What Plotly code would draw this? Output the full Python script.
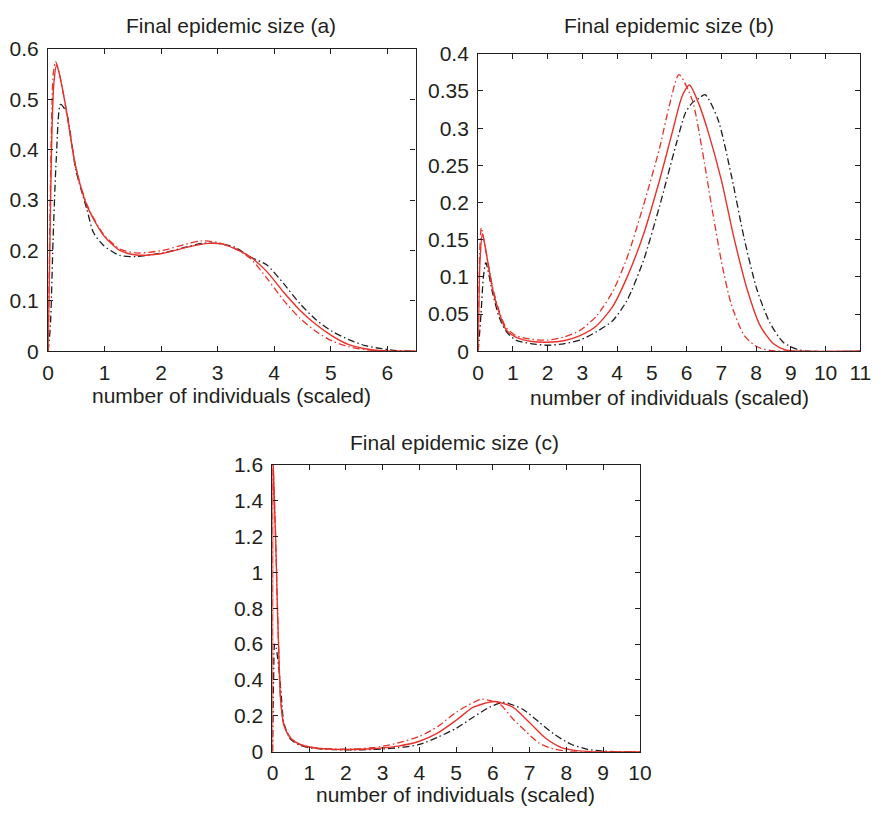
import plotly.graph_objects as go

# ---------------- Panel (a) ----------------
xa_solid = [0, 0.03, 0.06, 0.1, 0.15, 0.2, 0.32, 0.49, 0.69, 0.98, 1.27, 1.56, 2.02, 2.49, 2.83, 3.06,
            3.29, 3.58, 3.87, 4.16, 4.45, 4.74, 5.03, 5.32, 5.61, 5.9, 6.2, 6.5]
ya_solid = [0, 0.2, 0.4, 0.53, 0.568, 0.55, 0.48, 0.365, 0.288, 0.23, 0.2, 0.191, 0.194, 0.207, 0.214, 0.213,
            0.204, 0.187, 0.158, 0.118, 0.082, 0.053, 0.03, 0.013, 0.005, 0.001, 0, 0]
xa_rdash = [0, 0.03, 0.06, 0.09, 0.13, 0.18, 0.32, 0.49, 0.69, 0.98, 1.27, 1.56, 2.02, 2.49, 2.71, 3.0,
            3.29, 3.58, 3.87, 4.16, 4.45, 4.74, 5.03, 5.32, 5.61, 5.9, 6.2, 6.5]
ya_rdash = [0, 0.25, 0.45, 0.55, 0.575, 0.56, 0.48, 0.365, 0.29, 0.232, 0.203, 0.195, 0.2, 0.214, 0.219, 0.216,
            0.205, 0.184, 0.145, 0.102, 0.066, 0.039, 0.02, 0.009, 0.003, 0.001, 0, 0]
xa_black = [0, 0.04, 0.087, 0.145, 0.22, 0.32, 0.49, 0.69, 0.8, 0.98, 1.27, 1.56, 2.02, 2.49, 2.71, 3.0,
            3.29, 3.58, 3.87, 4.16, 4.45, 4.74, 5.03, 5.32, 5.61, 5.9, 6.18, 6.5]
ya_black = [0, 0.05, 0.22, 0.384, 0.49, 0.475, 0.36, 0.28, 0.236, 0.21, 0.19, 0.188, 0.195, 0.208, 0.214, 0.214,
            0.207, 0.187, 0.171, 0.135, 0.095, 0.0625, 0.039, 0.023, 0.011, 0.005, 0.001, 0]

# ---------------- Panel (b) ----------------
xb_solid = [0, 0.05, 0.12, 0.24, 0.42, 0.61, 0.8, 1.08, 1.55, 2.0, 2.46, 2.93, 3.4, 3.87, 4.28, 4.75,
            5.22, 5.59, 5.87, 6.08, 6.34, 6.62, 7.0, 7.37, 7.75, 8.12, 8.5, 8.87, 9.3, 11]
yb_solid = [0, 0.12, 0.158, 0.13, 0.082, 0.051, 0.029, 0.019, 0.013, 0.012, 0.014, 0.021, 0.034, 0.06, 0.099, 0.156,
            0.23, 0.295, 0.343, 0.358, 0.334, 0.295, 0.23, 0.151, 0.082, 0.034, 0.01, 0.0013, 0, 0]
xb_rdash = [0, 0.04, 0.09, 0.2, 0.42, 0.61, 0.8, 1.08, 1.55, 2.0, 2.46, 2.93, 3.4, 3.87, 4.28, 4.75,
            5.22, 5.5, 5.78, 6.16, 6.44, 6.72, 7.0, 7.28, 7.66, 8.03, 8.4, 9.0, 11]
yb_rdash = [0, 0.13, 0.166, 0.14, 0.085, 0.053, 0.032, 0.021, 0.016, 0.015, 0.019, 0.028, 0.047, 0.08, 0.125, 0.195,
            0.273, 0.33, 0.372, 0.338, 0.273, 0.195, 0.121, 0.064, 0.021, 0.006, 0.001, 0, 0]
xb_black = [0, 0.08, 0.15, 0.22, 0.42, 0.61, 0.8, 1.08, 1.55, 2.0, 2.46, 2.93, 3.4, 3.87, 4.28, 4.75,
            5.22, 5.69, 5.97, 6.16, 6.35, 6.53, 6.9, 7.28, 7.66, 8.03, 8.4, 8.78, 9.15, 9.5, 11]
yb_black = [0, 0.05, 0.1, 0.119, 0.077, 0.045, 0.027, 0.015, 0.01, 0.008, 0.01, 0.015, 0.026, 0.041, 0.068, 0.121,
            0.195, 0.277, 0.321, 0.334, 0.34, 0.345, 0.312, 0.238, 0.151, 0.082, 0.038, 0.012, 0.003, 0, 0]

# ---------------- Panel (c) ----------------
xc_solid = [0, 0.005, 0.02, 0.085, 0.13, 0.17, 0.22, 0.31, 0.49, 0.75, 1.0, 1.29, 1.7, 2.2, 2.7, 3.0, 3.42,
            4.0, 4.49, 5.0, 5.47, 6.05, 6.54, 6.98, 7.43, 7.87, 8.23, 8.76, 10]
yc_solid = [0, 1.75, 1.6, 1.196, 0.835, 0.564, 0.293, 0.148, 0.076, 0.04, 0.026, 0.018, 0.013, 0.012, 0.016, 0.021, 0.031,
            0.058, 0.103, 0.175, 0.248, 0.28, 0.248, 0.166, 0.076, 0.022, 0.007, 0, 0]
xc_rdash = [0, 0.005, 0.02, 0.085, 0.13, 0.17, 0.22, 0.31, 0.49, 0.75, 1.0, 1.29, 1.7, 2.2, 2.7, 3.0, 3.42,
            4.0, 4.49, 5.0, 5.47, 5.69, 6.18, 6.54, 6.9, 7.25, 7.6, 7.96, 8.5, 10]
yc_rdash = [0, 1.75, 1.6, 1.2, 0.84, 0.57, 0.3, 0.152, 0.078, 0.041, 0.027, 0.019, 0.015, 0.015, 0.022, 0.03, 0.049,
            0.085, 0.139, 0.22, 0.275, 0.293, 0.266, 0.184, 0.112, 0.049, 0.018, 0.004, 0, 0]
xc_black = [0, 0.03, 0.06, 0.1, 0.17, 0.24, 0.31, 0.49, 0.75, 1.0, 1.29, 1.7, 2.2, 2.7, 3.0, 3.42,
            4.0, 4.49, 5.0, 5.47, 5.91, 6.27, 6.8, 7.25, 7.69, 8.14, 8.58, 8.94, 9.3, 10]
yc_black = [0, 0.4, 0.6, 0.58, 0.47, 0.31, 0.16, 0.07, 0.036, 0.022, 0.016, 0.011, 0.01, 0.012, 0.015, 0.022,
            0.04, 0.08, 0.13, 0.193, 0.248, 0.275, 0.238, 0.166, 0.094, 0.04, 0.013, 0.004, 0, 0]

panel_titles = ["Final epidemic size (a)", "Final epidemic size (b)", "Final epidemic size (c)"]
x_label = "number of individuals (scaled)"

RED = "#e8312a"
BLACK = "#1e1e1e"
INK = "#231f20"
FONT = "Liberation Sans, Arial, Helvetica, sans-serif"
DASHDOT = "7px,3px,1.5px,3px"
FS = 21
W, H = 887, 820

fig = go.Figure()

panels = [
    ("x", "y", (xa_black, ya_black), (xa_rdash, ya_rdash), (xa_solid, ya_solid)),
    ("x2", "y2", (xb_black, yb_black), (xb_rdash, yb_rdash), (xb_solid, yb_solid)),
    ("x3", "y3", (xc_black, yc_black), (xc_rdash, yc_rdash), (xc_solid, yc_solid)),
]
for xa, ya, blk, rd, rs in panels:
    fig.add_trace(go.Scatter(x=blk[0], y=blk[1], mode="lines", xaxis=xa, yaxis=ya,
                             line=dict(color=BLACK, width=1.3, dash=DASHDOT, shape="spline", smoothing=0.7)))
    fig.add_trace(go.Scatter(x=rd[0], y=rd[1], mode="lines", xaxis=xa, yaxis=ya,
                             line=dict(color=RED, width=1.3, dash=DASHDOT, shape="spline", smoothing=0.7)))
    fig.add_trace(go.Scatter(x=rs[0], y=rs[1], mode="lines", xaxis=xa, yaxis=ya,
                             line=dict(color=RED, width=1.4, shape="spline", smoothing=0.7)))

# pixel boxes (left, right, top, bottom)
boxes = [(43, 418, 38, 349), (482, 872, 43, 349), (272, 647, 466, 761)]
xranges = [[0, 6.5], [0, 11], [0, 10]]
yranges = [[0, 0.6], [0, 0.4], [0, 1.6]]
ydticks = [0.1, 0.05, 0.2]
xdticks = [1, 1, 1]

common = dict(showline=True, linecolor=INK, linewidth=1.3, mirror="allticks", ticks="inside",
              ticklen=5, tickwidth=1, tickcolor=INK, showgrid=False, zeroline=False,
              tickfont=dict(family=FONT, size=FS, color=INK), fixedrange=True)

layout_axes = {}
for i, (l, r, t, b) in enumerate(boxes):
    sfx = "" if i == 0 else str(i + 1)
    layout_axes["xaxis" + sfx] = dict(common, domain=[l / W, r / W], range=xranges[i], dtick=xdticks[i],
                                      tick0=0, anchor="y" + sfx, ticklabelstandoff=2)
    layout_axes["yaxis" + sfx] = dict(common, domain=[1 - b / H, 1 - t / H], range=yranges[i],
                                      dtick=ydticks[i], tick0=0, anchor="x" + sfx, ticklabelstandoff=4)

annotations = []
title_pos = [(230, 14), (677, 14), (458, 443)]
xlabel_pos = [(230, 395), (677, 397), (459, 805)]
for (tx, ty), txt in zip(title_pos, panel_titles):
    annotations.append(dict(text=txt, x=tx / W, y=1 - ty / H, xref="paper", yref="paper",
                            xanchor="center", yanchor="middle", showarrow=False,
                            font=dict(family=FONT, size=FS, color=INK)))
for (tx, ty) in xlabel_pos:
    annotations.append(dict(text=x_label, x=tx / W, y=1 - ty / H, xref="paper", yref="paper",
                            xanchor="center", yanchor="middle", showarrow=False,
                            font=dict(family=FONT, size=FS, color=INK)))

fig.update_layout(width=W, height=H, margin=dict(l=0, r=0, t=0, b=0),
                  paper_bgcolor="white", plot_bgcolor="white", showlegend=False,
                  annotations=annotations, **layout_axes)

fig.write_html("out.html")
